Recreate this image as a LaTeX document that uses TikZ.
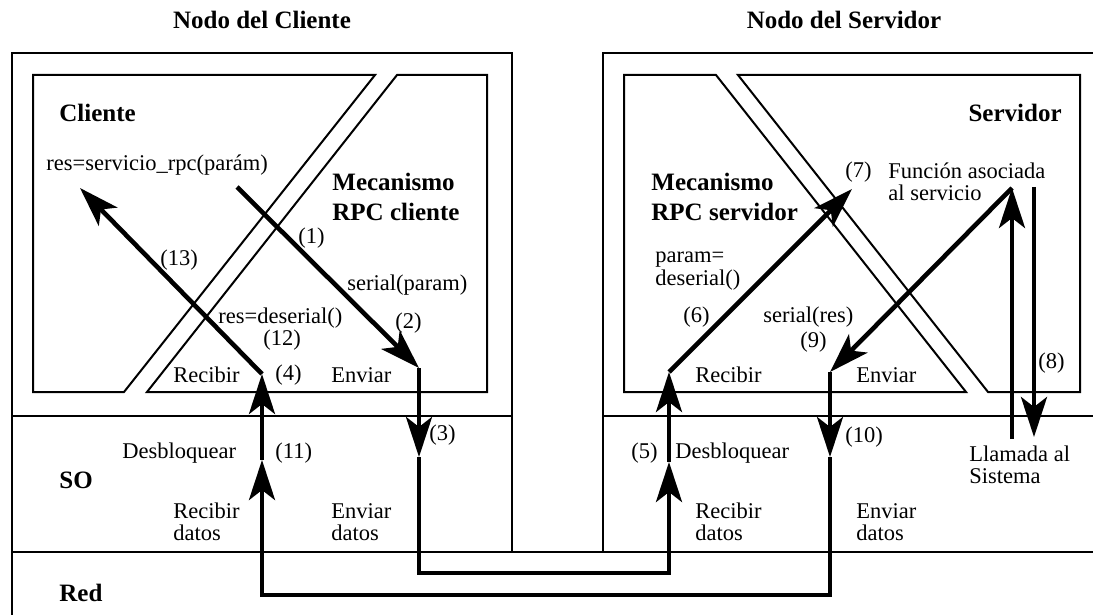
\documentclass[tikz,border=0pt]{standalone}
\usepackage{fontspec}
\setmainfont{Liberation Serif}
\usetikzlibrary{arrows.meta}

\begin{document}
\begin{tikzpicture}[x=0.5pt,y=-0.5pt,
  caja/.style={line width=1pt},
  grueso/.style={line width=2.3pt},
  flecha/.style={grueso,-{Stealth[length=20pt,width=13pt,inset=5pt]}},
  txt/.style={anchor=west,inner sep=0pt,align=left,font=\fontsize{11.25}{11.25}\selectfont},
  tit/.style={anchor=west,inner sep=0pt,align=left,font=\fontsize{12.5}{15}\selectfont\bfseries}]
  \useasboundingbox (0,0) rectangle (1093,615);

  % marcos de los nodos y capas
  \draw[caja] (12,615) -- (12,53) -- (512,53) -- (512,552);
  \draw[caja] (603,552) -- (603,53) -- (1093,53);
  \draw[caja] (12,416) -- (512,416);
  \draw[caja] (603,416) -- (1093,416);
  \draw[caja] (12,552) -- (1093,552);

  % procesos cliente / servidor
  \draw[caja] (33,75) -- (375,75) -- (124,392) -- (33,392) -- cycle;
  \draw[caja] (397,75) -- (487,75) -- (487,392) -- (147,392) -- cycle;
  \draw[caja] (624,75) -- (716,75) -- (966,392) -- (624,392) -- cycle;
  \draw[caja] (738,75) -- (1080,75) -- (1080,392) -- (988,392) -- cycle;

  % titulos
  \node[tit,anchor=center] (ncli) at (262,20) {Nodo del Cliente};
  \node[tit,anchor=center] (nsrv) at (844,20) {Nodo del Servidor};
  \node[tit] (cli) at (59,113) {Cliente};
  \node[tit,anchor=east] (srv) at (1062,113) {Servidor};
  \node[tit] (mcli) at (332,197) {Mecanismo\\RPC cliente};
  \node[tit] (msrv) at (651,197) {Mecanismo\\RPC servidor};
  \node[tit] (so) at (59,480) {SO};
  \node[tit] (red) at (59,593) {Red};

  % textos del cliente
  \node[txt] (llam) at (46,165) {res=servicio\_rpc(parám)};
  \node[txt] (e1) at (298,238) {(1)};
  \node[txt] (e13) at (160,260) {(13)};
  \node[txt] (ser) at (347,285) {serial(param)};
  \node[txt] (des) at (218,318) {res=deserial()};
  \node[txt] (e2) at (395,323) {(2)};
  \node[txt] (e12) at (263,340) {(12)};
  \node[txt] (crec) at (173,375) {Recibir};
  \node[txt] (e4) at (275,375) {(4)};
  \node[txt] (cenv) at (331,375) {Enviar};
  \node[txt] (cdes) at (122,453) {Desbloquear};
  \node[txt] (e11) at (275,453) {(11)};
  \node[txt] (e3) at (429,435) {(3)};
  \node[txt] (crd) at (173,522) {Recibir\\datos};
  \node[txt] (ced) at (331,522) {Enviar\\datos};

  % textos del servidor
  \node[txt] (e7) at (845,172) {(7)};
  \node[txt] (func) at (888,182) {Función asociada\\al servicio};
  \node[txt] (pdes) at (655,271) {param=\\deserial()};
  \node[txt] (e6) at (683,317) {(6)};
  \node[txt] (sres) at (763,317) {serial(res)};
  \node[txt] (e9) at (800,342) {(9)};
  \node[txt] (e8) at (1038,363) {(8)};
  \node[txt] (srec) at (695,375) {Recibir};
  \node[txt] (senv) at (856,375) {Enviar};
  \node[txt] (e5) at (631,453) {(5)};
  \node[txt] (sdes) at (675,453) {Desbloquear};
  \node[txt] (e10) at (845,437) {(10)};
  \node[txt] (sis) at (969,465) {Llamada al\\Sistema};
  \node[txt] (srd) at (695,522) {Recibir\\datos};
  \node[txt] (sed) at (856,522) {Enviar\\datos};

  % puntos del recorrido
  \coordinate (p1) at (237,187);
  \coordinate (p2) at (419,368);
  \coordinate (p3) at (419,457);
  \coordinate (p3b) at (419,573);
  \coordinate (p5b) at (669,573);
  \coordinate (p5) at (669,462);
  \coordinate (p6) at (669,372);
  \coordinate (p7) at (852,189);
  \coordinate (pf) at (1012,188);
  \coordinate (pl) at (1012,439);
  \coordinate (p8a) at (1034,187);
  \coordinate (p8) at (1034,437);
  \coordinate (p9) at (830,372);
  \coordinate (p10) at (830,457);
  \coordinate (p10b) at (830,595);
  \coordinate (p11b) at (262,595);
  \coordinate (p11) at (262,460);
  \coordinate (p4) at (262,374);
  \coordinate (p13) at (80,188);

  % recorrido de la llamada
  \draw[flecha] (p1) -- (p2);
  \draw[flecha] (p2) -- (p3);
  \draw[flecha] (p3) -- (p3b) -- (p5b) -- (p5);
  \draw[flecha] (p5) -- (p6);
  \draw[flecha] (p6) -- (p7);
  \draw[flecha] (pl) -- (pf);
  \draw[flecha] (p8a) -- (p8);
  \draw[flecha] (pf) -- (p9);
  \draw[flecha] (p9) -- (p10);
  \draw[flecha] (p10) -- (p10b) -- (p11b) -- (p11);
  \draw[flecha] (p11) -- (p4);
  \draw[flecha] (p4) -- (p13);
\end{tikzpicture}
\end{document}
